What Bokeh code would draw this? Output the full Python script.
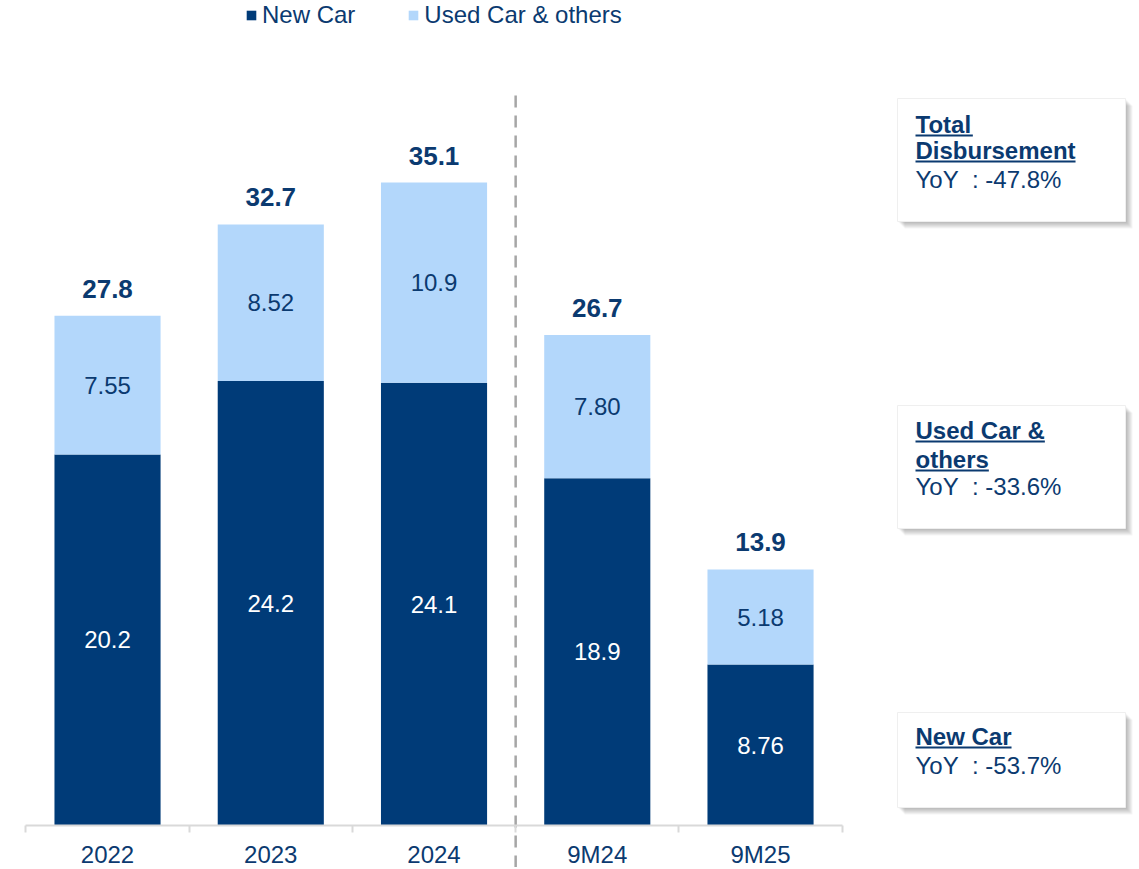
from bokeh.plotting import figure
from bokeh.models import ColumnDataSource, FixedTicker, Range1d, Legend, LegendItem
from bokeh.core.properties import value
from bokeh.embed import file_html
from bokeh.resources import INLINE

# ---------------- data ----------------
categories = ["2022", "2023", "2024", "9M24", "9M25"]
new_car = [20.2, 24.2, 24.1, 18.9, 8.76]
used_car = [7.55, 8.52, 10.9, 7.80, 5.18]
totals = [27.8, 32.7, 35.1, 26.7, 13.9]
series_names = ["New Car", "Used Car & others"]
box_titles = [["Total", "Disbursement"], ["Used Car &", "others"], ["New Car"]]
box_yoy = ["-47.8%", "-33.6%", "-53.7%"]

# ---------------- style ----------------
FONT = "Liberation Sans"
DARK = "#003B78"
LIGHT = "#B3D7FB"
TXT = "#0B3A70"
W, H = 1137, 867
UX = 163.25            # px per category
UY = 18.37             # px per unit value
X0 = -0.5 - 25.4 / UX  # data x at figure left edge
BASE = 825             # px of y=0


def dx(px):  # px -> data x
    return X0 + px / UX


def dy(py):  # px -> data y
    return (BASE - py) / UY


p = figure(width=W, height=H, output_backend="svg", toolbar_location=None,
           x_range=Range1d(X0, X0 + W / UX), y_range=Range1d(dy(H), dy(0)),
           min_border=0, min_border_left=0, min_border_right=0,
           min_border_top=0, min_border_bottom=0)
p.outline_line_color = None
p.grid.visible = False
p.yaxis.visible = False
p.background_fill_color = "white"
p.border_fill_color = "white"

xs = list(range(len(categories)))
src = ColumnDataSource(dict(x=xs, new=new_car, used=used_car))
rs = p.vbar_stack(["new", "used"], x="x", width=0.65, color=[DARK, LIGHT],
                  line_color=None, source=src)

# x axis
ax = p.xaxis[0]
ax.fixed_location = 0
ax.bounds = (-0.5, len(categories) - 0.5)
ax.ticker = FixedTicker(ticks=xs, minor_ticks=[i - 0.5 for i in range(len(categories) + 1)])
ax.major_label_overrides = {i: c for i, c in enumerate(categories)}
ax.axis_line_color = "#D9D9D9"
ax.axis_line_width = 2
ax.major_tick_line_color = None
ax.major_tick_out = 0
ax.major_tick_in = 0
ax.minor_tick_line_color = "#D9D9D9"
ax.minor_tick_line_width = 2
ax.minor_tick_out = 7
ax.minor_tick_in = 0
ax.major_label_text_font = FONT
ax.major_label_text_font_size = "24px"
ax.major_label_text_color = TXT
ax.major_label_standoff = 8

# dashed separator
p.segment(x0=[2.5], y0=[dy(H)], x1=[2.5], y1=[dy(90)], line_color="#A6A6A6",
          line_width=2.5, line_dash="12 8")

# value labels
fmt3 = lambda v: "{:#.3g}".format(v)
new_src = ColumnDataSource(dict(x=xs, y=[v / 2 for v in new_car], t=[fmt3(v) for v in new_car]))
used_src = ColumnDataSource(dict(x=xs, y=[n + u / 2 for n, u in zip(new_car, used_car)],
                                 t=[fmt3(v) for v in used_car]))
tot_src = ColumnDataSource(dict(x=xs, y=[n + u for n, u in zip(new_car, used_car)],
                                t=["{:.1f}".format(v) for v in totals]))
p.text(x="x", y="y", text="t", source=new_src, text_font=value(FONT), text_font_size="24px",
       text_color="white", text_align="center", text_baseline="middle")
p.text(x="x", y="y", text="t", source=used_src, text_font=value(FONT), text_font_size="24px",
       text_color=TXT, text_align="center", text_baseline="middle")
p.text(x="x", y="y", text="t", source=tot_src, text_font=value(FONT), text_font_size="26px",
       text_font_style="bold", text_color=TXT, text_align="center", text_baseline="middle",
       y_offset=-27)

# legend
legend = Legend(items=[LegendItem(label=series_names[0], renderers=[rs[0]]),
                       LegendItem(label=series_names[1], renderers=[rs[1]])],
                orientation="horizontal", location=(245, H - 29),
                glyph_width=12, glyph_height=12, label_standoff=5, spacing=52,
                padding=0, margin=0, border_line_color=None, background_fill_alpha=0,
                label_text_font=FONT, label_text_font_size="24px", label_text_color=TXT)
p.add_layout(legend)

# annotation boxes
BOLD_W = {"T": .611, "o": .611, "t": .333, "a": .556, "l": .278, "D": .722, "i": .278,
          "s": .556, "b": .611, "u": .611, "r": .389, "e": .556, "m": .889, "n": .611,
          "U": .722, "d": .611, " ": .278, "C": .722, "&": .722, "h": .611, "N": .722,
          "w": .778}
boxes_px = [(897, 1125, 98, 221), (897, 1125, 405, 528), (897, 1125, 712, 807)]
title_base_px = [[132, 158], [438, 467], [744]]
yoy_base_px = [187, 494, 773]
TX = 915
MID = 8.5  # baseline -> middle offset for 24px text

for k in range(1, 8):
    p.quad(left=[dx(b[0] + k) for b in boxes_px], right=[dx(b[1] + k) for b in boxes_px],
           top=[dy(b[2] + k) for b in boxes_px], bottom=[dy(b[3] + k) for b in boxes_px],
           fill_color="black", fill_alpha=0.045, line_color=None)
p.quad(left=[dx(b[0]) for b in boxes_px], right=[dx(b[1]) for b in boxes_px],
       top=[dy(b[2]) for b in boxes_px], bottom=[dy(b[3]) for b in boxes_px],
       fill_color="white", line_color="#EFEFEF", line_width=1)

t_x, t_y, t_t, u_x0, u_x1, u_y = [], [], [], [], [], []
for titles, bases in zip(box_titles, title_base_px):
    for s, b in zip(titles, bases):
        t_x.append(dx(TX)); t_y.append(dy(b - MID)); t_t.append(s)
        w = sum(BOLD_W.get(c, .6) for c in s) * 24
        u_x0.append(dx(TX)); u_x1.append(dx(TX + w)); u_y.append(dy(b + 3))
p.text(x=t_x, y=t_y, text=t_t, text_font=value(FONT), text_font_size="24px",
       text_font_style="bold", text_color=TXT, text_align="left", text_baseline="middle")
p.segment(x0=u_x0, y0=u_y, x1=u_x1, y1=u_y, line_color=TXT, line_width=2)
p.text(x=[dx(TX)] * len(box_yoy), y=[dy(b - MID) for b in yoy_base_px],
       text=["YoY\u00a0 : " + v for v in box_yoy], text_font=value(FONT), text_font_size="24px",
       text_color=TXT, text_align="left", text_baseline="middle")

open("out.html", "w").write(file_html(p, INLINE))
